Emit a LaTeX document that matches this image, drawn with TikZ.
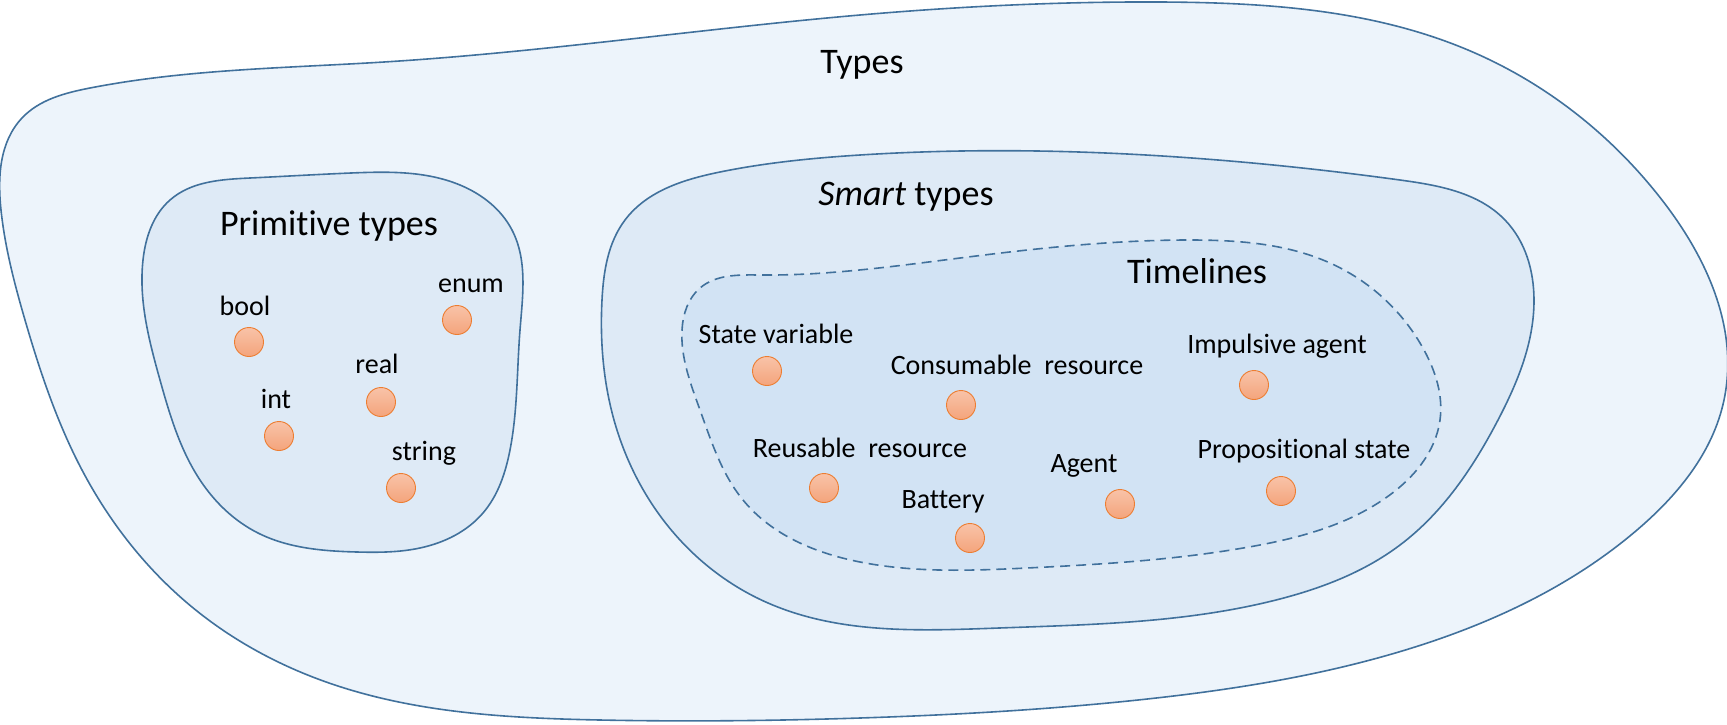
\documentclass[tikz,border=0pt]{standalone}
\usepackage{fontspec}
\setmainfont{Carlito}[Ligatures=NoCommon]
\usepackage{tikz}
\usetikzlibrary{hobby}
\usepackage{xcolor}
\definecolor{edgeblue}{HTML}{41719C}
\definecolor{paleblue}{HTML}{EDF4FB}
\definecolor{midblue}{HTML}{DEEAF6}
\definecolor{deepblue}{HTML}{D2E3F4}
\definecolor{dotedge}{HTML}{ED7D31}
\definecolor{dottop}{HTML}{F8C3A8}
\definecolor{dotbot}{HTML}{F4A47C}
\tikzset{
  blob/.style={draw=edgeblue, line width=1.6pt},
  dot/.style={circle, minimum size=29pt, inner sep=0pt, draw=dotedge, line width=0.9pt,
              top color=dottop, bottom color=dotbot},
  lbl/.style={anchor=base, inner sep=0pt, font=\fontsize{28}{34}\selectfont},
  title/.style={anchor=base, inner sep=0pt, font=\fontsize{36}{43}\selectfont}
}

\begin{document}
\begin{tikzpicture}[x=1pt, y=-1pt]
  \useasboundingbox (0,0) rectangle (1727,724);
  % Types (outer region)
  \draw[blob, fill=paleblue] plot[closed hobby] coordinates {
    (1,210) (22,118) (90,88) (384,62) (860,15) (1160,2) (1468,50) (1662,200)
    (1724,400) (1637,530) (1415,647) (1138,700) (860,718) (600,720) (329,683)
    (192,607) (82,470) (25,320)};
  \node[title] (types) at (862,73) {Types};
  % Primitive types
  \draw[blob, fill=midblue] plot[closed hobby] coordinates {
    (143,260) (170,200) (250,178) (351,173) (460,185) (512,230) (520,330)
    (510,450) (483,513) (420,548) (357,552) (258,533) (200,480) (160,380)};
  \node[title] (prim) at (329,235) {Primitive types};
  % Smart types
  \draw[blob, fill=midblue] plot[closed hobby] coordinates {
    (602,300) (625,220) (720,172) (860,155) (1192,158) (1400,180) (1505,220)
    (1534,300) (1498,420) (1400,545) (1276,600) (999,628) (768,603) (680,540)
    (614,420)};
  \node[title] (smart) at (906,205) {\textit{Smart} types};
  % Timelines (dashed)
  \draw[blob, fill=deepblue, dash pattern=on 10pt off 6pt] plot[closed hobby] coordinates {
    (682,330) (700,288) (760,275) (960,258) (1192,240) (1330,263) (1424,350)
    (1440,420) (1387,497) (1249,547) (1027,568) (860,562) (743,500) (700,410)};
  \node[title] (timelines) at (1197,283) {Timelines};
  % primitive members
  \node[lbl] (l-bool) at (245,315) {bool};
  \node[dot] (d-bool) at (249,342) {};
  \node[lbl] (l-enum) at (471,292) {enum};
  \node[dot] (d-enum) at (457,320) {};
  \node[lbl] (l-real) at (377,373) {real};
  \node[dot] (d-real) at (381,402) {};
  \node[lbl] (l-int) at (276,408) {int};
  \node[dot] (d-int) at (279,436) {};
  \node[lbl] (l-string) at (424,460) {string};
  \node[dot] (d-string) at (401,488) {};
  % timeline members
  \node[lbl] (l-state) at (776,343) {State variable};
  \node[dot] (d-state) at (767,371) {};
  \node[lbl] (l-cons) at (1017,374) {Consumable\ \ resource};
  \node[dot] (d-cons) at (961,405) {};
  \node[lbl] (l-imp) at (1277,353) {Impulsive agent};
  \node[dot] (d-imp) at (1254,385) {};
  \node[lbl] (l-reus) at (860,457) {Reusable\ \ resource};
  \node[dot] (d-reus) at (824,488) {};
  \node[lbl] (l-agent) at (1084,472) {Agent};
  \node[dot] (d-agent) at (1120,504) {};
  \node[lbl] (l-batt) at (943,508) {Battery};
  \node[dot] (d-batt) at (970,538) {};
  \node[lbl] (l-prop) at (1304,458) {Propositional state};
  \node[dot] (d-prop) at (1281,491) {};
\end{tikzpicture}
\end{document}
